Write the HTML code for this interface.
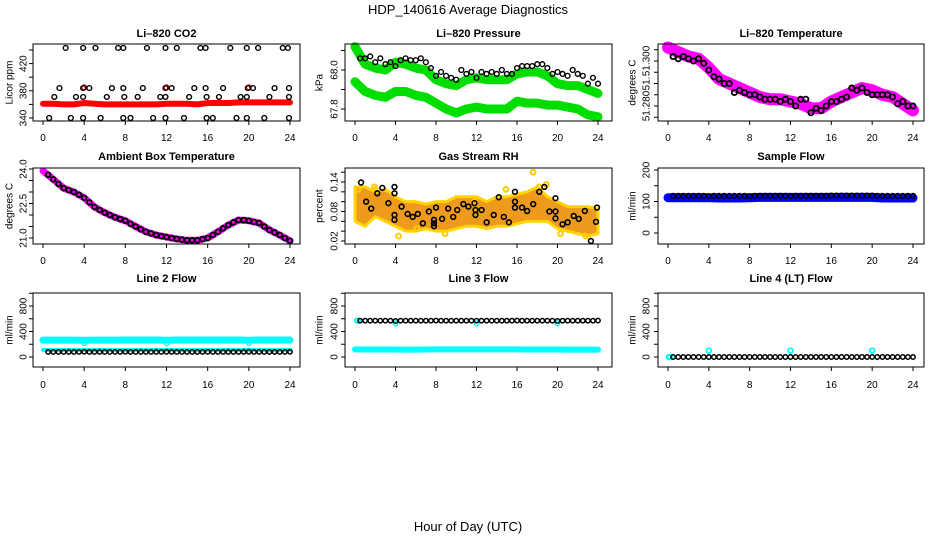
<!DOCTYPE html>
<html><head><meta charset="utf-8"><style>
body{margin:0;background:#fff}
svg{display:block;font-family:"Liberation Sans",sans-serif}
</style></head><body>
<svg id="c" width="936" height="540" viewBox="0 0 936 540">
<text x="468" y="14" text-anchor="middle" font-size="13">HDP_140616  Average Diagnostics</text>
<text x="468" y="531" text-anchor="middle" font-size="13">Hour of Day (UTC)</text>
</svg>
<script>
// ---- data ----
const halfHours=[0.5,1,1.5,2,2.5,3,3.5,4,4.5,5,5.5,6,6.5,7,7.5,8,8.5,9,9.5,10,10.5,11,11.5,12,12.5,13,13.5,14,14.5,15,15.5,16,16.5,17,17.5,18,18.5,19,19.5,20,20.5,21,21.5,22,22.5,23,23.5,24];
const hours=[0,1,2,3,4,5,6,7,8,9,10,11,12,13,14,15,16,17,18,19,20,21,22,23,24];
const xTicks=[0,4,8,12,16,20,24];
// CO2
const co2Hours=[0.6,2.7,3.9,5.6,7.8,8.5,10.7,11.9,13.7,15.9,16.5,18.8,19.8,21.5,23.9, 1.1,3.2,3.9,6.2,7.9,9.2,11.4,11.9,14.2,15.9,17.1,19.2,19.8,22.0,23.9, 1.6,3.9,4.5,6.7,7.8,9.7,11.9,12.5,14.7,15.8,17.5,19.9,20.4,22.5,23.9, 2.2,3.9,5.1,7.3,7.8,10.1,11.9,13.0,15.3,15.8,18.2,19.8,20.9,23.3,23.8];
const co2Vals=[340,340,340,340,340,340,340,340,340,340,340,340,340,340,340, 371,371,371,371,371,371,371,371,371,371,371,371,371,371,371, 384,384,384,384,384,384,384,384,384,384,384,384,384,384,384, 443,443,443,443,443,443,443,443,443,443,443,443,443,443,443];
const co2Red=[361,361,360,360,362,361,360,360,360,360,360,360,361,361,361,360,362,362,362,363,363,363,363,363,363];
const co2RedSpikeHours=[4,12,20];
const co2RedSpikeVals=[385,385,385];
// Pressure
const presBlack=[68.06,68.06,68.07,68.04,68.06,68.03,68.04,68.02,68.05,68.06,68.05,68.05,68.06,68.04,68.01,67.97,67.99,67.97,67.96,67.95,68.00,67.98,67.99,67.96,67.99,67.98,67.99,67.98,68.00,67.98,67.98,68.01,68.02,68.02,68.02,68.03,68.03,68.01,67.98,67.99,67.98,67.97,68.00,67.98,67.97,67.93,67.96,67.93];
const presGreenUp=[68.12,68.03,68.01,68.00,68.04,68.03,68.01,68.00,67.95,67.93,67.92,67.95,67.96,67.95,67.95,67.95,67.98,67.99,67.99,67.97,67.93,67.92,67.92,67.90,67.88];
const presGreenLo=[67.94,67.89,67.87,67.86,67.89,67.89,67.87,67.86,67.83,67.80,67.78,67.80,67.81,67.80,67.80,67.80,67.84,67.83,67.83,67.82,67.82,67.81,67.80,67.77,67.76];
// Li-820 temperature
const tempMag=[51.306,51.304,51.302,51.301,51.297,51.292,51.290,51.288,51.286,51.284,51.283,51.283,51.282,51.281,51.279,51.279,51.282,51.284,51.286,51.288,51.287,51.285,51.284,51.281,51.278];
const tempBlack=[51.302,51.301,51.302,51.301,51.300,51.301,51.299,51.296,51.293,51.292,51.290,51.290,51.286,51.287,51.286,51.285,51.285,51.284,51.283,51.283,51.283,51.282,51.283,51.282,51.280,51.283,51.283,51.277,51.279,51.278,51.280,51.282,51.282,51.283,51.284,51.288,51.287,51.288,51.286,51.285,51.285,51.285,51.285,51.284,51.281,51.282,51.280,51.280];
// Ambient box temperature
const ambMag=[23.92,23.55,23.17,23.0,22.75,22.35,22.1,21.9,21.75,21.5,21.27,21.13,21.04,20.96,20.9,20.9,21.0,21.27,21.56,21.78,21.75,21.65,21.35,21.13,20.88];
const ambBlack=[23.75,23.55,23.35,23.17,23.08,23.0,22.88,22.75,22.55,22.35,22.22,22.1,22.0,21.9,21.82,21.75,21.62,21.5,21.38,21.27,21.2,21.13,21.08,21.04,21.0,20.96,20.93,20.9,20.9,20.9,20.95,21.0,21.13,21.27,21.42,21.56,21.68,21.78,21.78,21.75,21.7,21.65,21.5,21.35,21.24,21.13,21.0,20.88];
// Gas stream RH
const rhBlackHours=[0.6,1.1,1.6,2.2,2.7,3.3,3.9,3.9,3.9,3.9,4.6,5.2,5.7,6.2,6.7,7.3,7.8,7.8,7.8,8.0,8.6,9.2,9.7,10.1,10.7,11.2,11.8,11.9,11.9,12.5,13.0,13.7,14.2,14.7,15.2,15.8,15.8,15.8,16.5,17.0,17.6,18.2,18.7,19.2,19.8,19.8,19.8,20.5,21.0,21.6,22.1,22.7,23.3,23.8,23.9];
const rhBlackVals=[0.139,0.10,0.086,0.117,0.128,0.097,0.117,0.13,0.073,0.063,0.09,0.075,0.069,0.075,0.056,0.08,0.063,0.056,0.05,0.088,0.065,0.086,0.069,0.083,0.095,0.09,0.097,0.083,0.073,0.083,0.058,0.073,0.109,0.069,0.058,0.12,0.10,0.088,0.088,0.081,0.095,0.12,0.13,0.08,0.107,0.08,0.066,0.054,0.058,0.071,0.065,0.081,0.02,0.059,0.088];
const rhUpper=[0.13,0.13,0.12,0.125,0.11,0.10,0.10,0.095,0.10,0.10,0.11,0.11,0.11,0.10,0.11,0.11,0.115,0.12,0.13,0.11,0.10,0.09,0.09,0.09,0.085];
const rhLower=[0.06,0.05,0.07,0.06,0.05,0.04,0.04,0.045,0.04,0.04,0.045,0.05,0.05,0.045,0.05,0.05,0.055,0.06,0.06,0.06,0.045,0.04,0.035,0.03,0.035];
const rhOutHours=[0.3,1.9,2.0,14.9,17.6,18.2,18.9,4.3,20.3,11.8,22.8,6.1,8.9];
const rhOutVals=[0.125,0.13,0.125,0.125,0.16,0.13,0.135,0.03,0.035,0.10,0.03,0.045,0.035];
// Sample flow
const sampBlue=[112,112,112,112,112,111,111,111,112,113,113,113,113,113,113,113,113,113,113,113,113,111,111,111,111];
const sampBlack=[118,118,118,118,118,118,118,117,118,118,118,118,118,118,118,117,118,118,118,118,118,118,118,117,118,118,118,118,118,118,118,119,119,119,119,119,119,119,119,119,118,118,118,118,118,118,118,118];
// Line 2 flow
const l2CyanUp=[265,265,265,265,262,265,265,265,266,266,266,266,263,267,267,267,267,266,266,266,262,266,266,266,266];
const l2CyanLo=[110,110,110,110,110,110,110,110,110,110,110,110,110,110,110,110,110,110,110,110,110,110,110,110,110];
const l2Black=[80,80,80,80,80,80,80,82,80,80,80,80,80,80,80,82,80,80,80,80,80,80,80,82,80,80,80,80,80,80,80,82,80,80,80,80,80,80,80,82,80,80,80,80,80,80,80,82];
const l2DipHours=[4,12,20];
const l2DipVals=[220,220,220];
// Line 3 flow
const l3Black=[570,570,570,570,570,570,570,565,570,570,570,570,570,570,570,572,570,570,570,570,570,570,570,570,570,570,570,570,570,570,570,572,570,570,570,570,570,570,570,565,570,570,570,570,570,570,570,572];
const l3CyanLo=[120,118,118,118,118,115,115,118,120,120,120,120,120,120,120,120,120,118,118,118,118,115,115,115,115];
const l3CyanHiHours=[0.2,0.3,4,12,20];
const l3CyanHiVals=[570,570,530,530,530];
// Line 4 flow
const l4Black=[0,0,0,0,0,0,0,0,0,0,0,0,0,0,0,0,0,0,0,0,0,0,0,0,0,0,0,0,0,0,0,0,0,0,0,0,0,0,0,0,0,0,0,0,0,0,0,0];
const l4CyanHours=[0.1,0.2,4,12,20];
const l4CyanVals=[0,0,100,100,100];

// ---- drawing ----
const svg=document.getElementById('c');
const NS='http://www.w3.org/2000/svg';
function el(tag,attrs,parent){const e=document.createElementNS(NS,tag);for(const k in attrs)e.setAttribute(k,attrs[k]);(parent||svg).appendChild(e);return e;}
const cols=[{L:33,R:300,x0:43,x24:290,lx:23,tx:9},{L:345,R:612,x0:355,x24:598,lx:334,tx:319},{L:658,R:924,x0:668,x24:913,lx:646,tx:632}];
const rows=[{T:44,B:121,ty:37,xl:141},{T:168,B:244,ty:160,xl:264},{T:293,B:367,ty:282,xl:388}];

function panel(cfg){
  const c=cols[cfg.col], r=rows[cfg.row];
  const g=el('g',{});
  
  
  const xs=h=>c.x0+(c.x24-c.x0)*h/24;
  const ys=v=>cfg.p1+(cfg.p2-cfg.p1)*(v-cfg.v1)/(cfg.v2-cfg.v1);
  const t=el('text',{x:(c.L+c.R)/2,y:r.ty,'text-anchor':'middle','font-size':11,'font-weight':'bold'},g);
  t.textContent=cfg.title;
  
  
  const plot=el('g',{},g);
  
  
  cfg.draw(plot,xs,ys);
  const box=el('rect',{x:c.L,y:r.T,width:c.R-c.L,height:r.B-r.T,fill:'none',stroke:'#000','stroke-width':1},g);
  
  
  const xa=el('g',{},g);
  
  
  xTicks.forEach(v=>{
    el('line',{x1:xs(v),x2:xs(v),y1:r.B,y2:r.B+4,stroke:'#000'},xa);
    const tl=el('text',{x:xs(v),y:r.xl,'text-anchor':'middle','font-size':10},xa);
    tl.textContent=v;
    
    
  });
  const ya=el('g',{},g);
  
  
  cfg.yTicks.forEach(v=>{el('line',{x1:c.L-4,x2:c.L,y1:ys(v),y2:ys(v),stroke:'#000'},ya);});
  cfg.yLabels.forEach((lab,i)=>{
    const y=ys(cfg.yLabelVals[i]);
    const tl=el('text',{x:c.lx,y:y,'text-anchor':'middle','font-size':10,transform:`rotate(-90 ${c.lx} ${y})`,dy:'0.35em'},ya);
    tl.textContent=lab;
    
    
  });
  const yt=el('text',{x:c.tx,y:(r.T+r.B)/2,'text-anchor':'middle','font-size':10,transform:`rotate(-90 ${c.tx} ${(r.T+r.B)/2})`,dy:'0.35em'},g);
  yt.textContent=cfg.ylab;
  
  
}
function circles(p,xsArr,ysArr,xs,ys,color,name,r,sw){
  xsArr.forEach((h,i)=>{
    const e=el('circle',{cx:xs(h),cy:ys(ysArr[i]),r:r||2.4,fill:'none',stroke:color,'stroke-width':sw||1.4},p);
    
    
  });
}
function band(p,hArr,vArr,xs,ys,color,w,name){
  const pts=hArr.map((h,i)=>xs(h)+','+ys(vArr[i])).join(' ');
  const e=el('polyline',{points:pts,fill:'none',stroke:color,'stroke-width':w,'stroke-linejoin':'round','stroke-linecap':'round'},p);
  
  
}

panel({name:'co2-panel',col:0,row:0,title:'Li\u2013820 CO2',ylab:'Licor ppm',v1:340,p1:118,v2:440,p2:50,
  yTicks:[340,360,380,400,420,440],yLabels:['340','380','420'],yLabelVals:[340,380,420],
  draw:(p,xs,ys)=>{band(p,hours,co2Red,xs,ys,'#ff0000',6,'co2-red-series');
    circles(p,co2RedSpikeHours,co2RedSpikeVals,xs,ys,'#ff0000','co2-red-point');
    circles(p,co2Hours,co2Vals,xs,ys,'#000','co2-point');}});
panel({name:'pressure-panel',col:1,row:0,title:'Li\u2013820 Pressure',ylab:'kPa',v1:68.0,p1:70,v2:67.8,p2:109,
  yTicks:[67.8,67.9,68.0,68.1],yLabels:['67.8','68.0'],yLabelVals:[67.8,68.0],
  draw:(p,xs,ys)=>{band(p,hours,presGreenUp,xs,ys,'#00dd00',9,'pressure-green-upper');
    band(p,hours,presGreenLo,xs,ys,'#00dd00',9,'pressure-green-lower');
    circles(p,halfHours,presBlack,xs,ys,'#000','pressure-point');}});
panel({name:'li820-temperature-panel',col:2,row:0,title:'Li\u2013820 Temperature',ylab:'degrees C',v1:51.300,p1:61,v2:51.280,p2:106,
  yTicks:[51.275,51.280,51.285,51.290,51.295,51.300,51.305],yLabels:['51.300','51.','51.280'],yLabelVals:[51.300,51.290,51.280],
  draw:(p,xs,ys)=>{band(p,hours,tempMag,xs,ys,'#ff00ff',12,'temperature-magenta');
    circles(p,halfHours,tempBlack,xs,ys,'#000','temperature-point',2.6,1.8);}});
panel({name:'ambient-temperature-panel',col:0,row:1,title:'Ambient Box Temperature',ylab:'degrees C',v1:24,p1:169,v2:21,p2:238,
  yTicks:[21,21.5,22,22.5,23,23.5,24],yLabels:['21.0','22.5','24.0'],yLabelVals:[21,22.5,24],
  draw:(p,xs,ys)=>{band(p,hours,ambMag,xs,ys,'#ff00ff',7,'ambient-magenta');
    circles(p,halfHours,ambBlack,xs,ys,'#000','ambient-point',2.4,1.8);}});
panel({name:'gas-stream-rh-panel',col:1,row:1,title:'Gas Stream RH',ylab:'percent',v1:0.14,p1:182,v2:0.02,p2:241,
  yTicks:[0.02,0.04,0.06,0.08,0.10,0.12,0.14,0.16],yLabels:['0.02','0.08','0.14'],yLabelVals:[0.02,0.08,0.14],
  draw:(p,xs,ys)=>{
    const pts=hours.map((h,i)=>xs(h)+','+ys(rhUpper[i])).concat(hours.slice().reverse().map((h,i)=>xs(h)+','+ys(rhLower[rhLower.length-1-i]))).join(' ');
    const e=el('polygon',{points:pts,fill:'#ee9a1c',stroke:'#ffd400','stroke-width':3,'stroke-linejoin':'round'},p);
    
    
    circles(p,rhOutHours,rhOutVals,xs,ys,'#ffcc00','rh-outlier',2.4,2);
    circles(p,rhBlackHours,rhBlackVals,xs,ys,'#000','rh-point',2.4,1.6);}});
panel({name:'sample-flow-panel',col:2,row:1,title:'Sample Flow',ylab:'ml/min',v1:0,p1:233,v2:200,p2:170,
  yTicks:[0,50,100,150,200],yLabels:['0','100','200'],yLabelVals:[0,100,200],
  draw:(p,xs,ys)=>{band(p,hours,sampBlue,xs,ys,'#0000ff',9,'sample-flow-blue');
    circles(p,halfHours,sampBlack,xs,ys,'#000','sample-flow-point',2.3,1.5);}});
panel({name:'line2-flow-panel',col:0,row:2,title:'Line 2 Flow',ylab:'ml/min',v1:0,p1:357,v2:800,p2:306,
  yTicks:[0,200,400,600,800,1000],yLabels:['0','400','800'],yLabelVals:[0,400,800],
  draw:(p,xs,ys)=>{band(p,hours,l2CyanUp,xs,ys,'#00ffff',7,'line2-cyan-upper');
    band(p,hours,l2CyanLo,xs,ys,'#00ffff',4,'line2-cyan-lower');
    circles(p,l2DipHours,l2DipVals,xs,ys,'#00ffff','line2-cyan-point');
    circles(p,halfHours,l2Black,xs,ys,'#000','line2-point',2.2,1.5);}});
panel({name:'line3-flow-panel',col:1,row:2,title:'Line 3 Flow',ylab:'ml/min',v1:0,p1:357,v2:800,p2:306,
  yTicks:[0,200,400,600,800,1000],yLabels:['0','400','800'],yLabelVals:[0,400,800],
  draw:(p,xs,ys)=>{band(p,hours,l3CyanLo,xs,ys,'#00ffff',6,'line3-cyan-lower');
    circles(p,l3CyanHiHours,l3CyanHiVals,xs,ys,'#00ffff','line3-cyan-point');
    circles(p,halfHours,l3Black,xs,ys,'#000','line3-point',2.2,1.5);}});
panel({name:'line4-flow-panel',col:2,row:2,title:'Line 4 (LT) Flow',ylab:'ml/min',v1:0,p1:357,v2:800,p2:306,
  yTicks:[0,200,400,600,800,1000],yLabels:['0','400','800'],yLabelVals:[0,400,800],
  draw:(p,xs,ys)=>{circles(p,l4CyanHours,l4CyanVals,xs,ys,'#00ffff','line4-cyan-point',2.4,1.8);
    circles(p,halfHours,l4Black,xs,ys,'#000','line4-point',2.2,1.5);}});
</script>
</body></html>
